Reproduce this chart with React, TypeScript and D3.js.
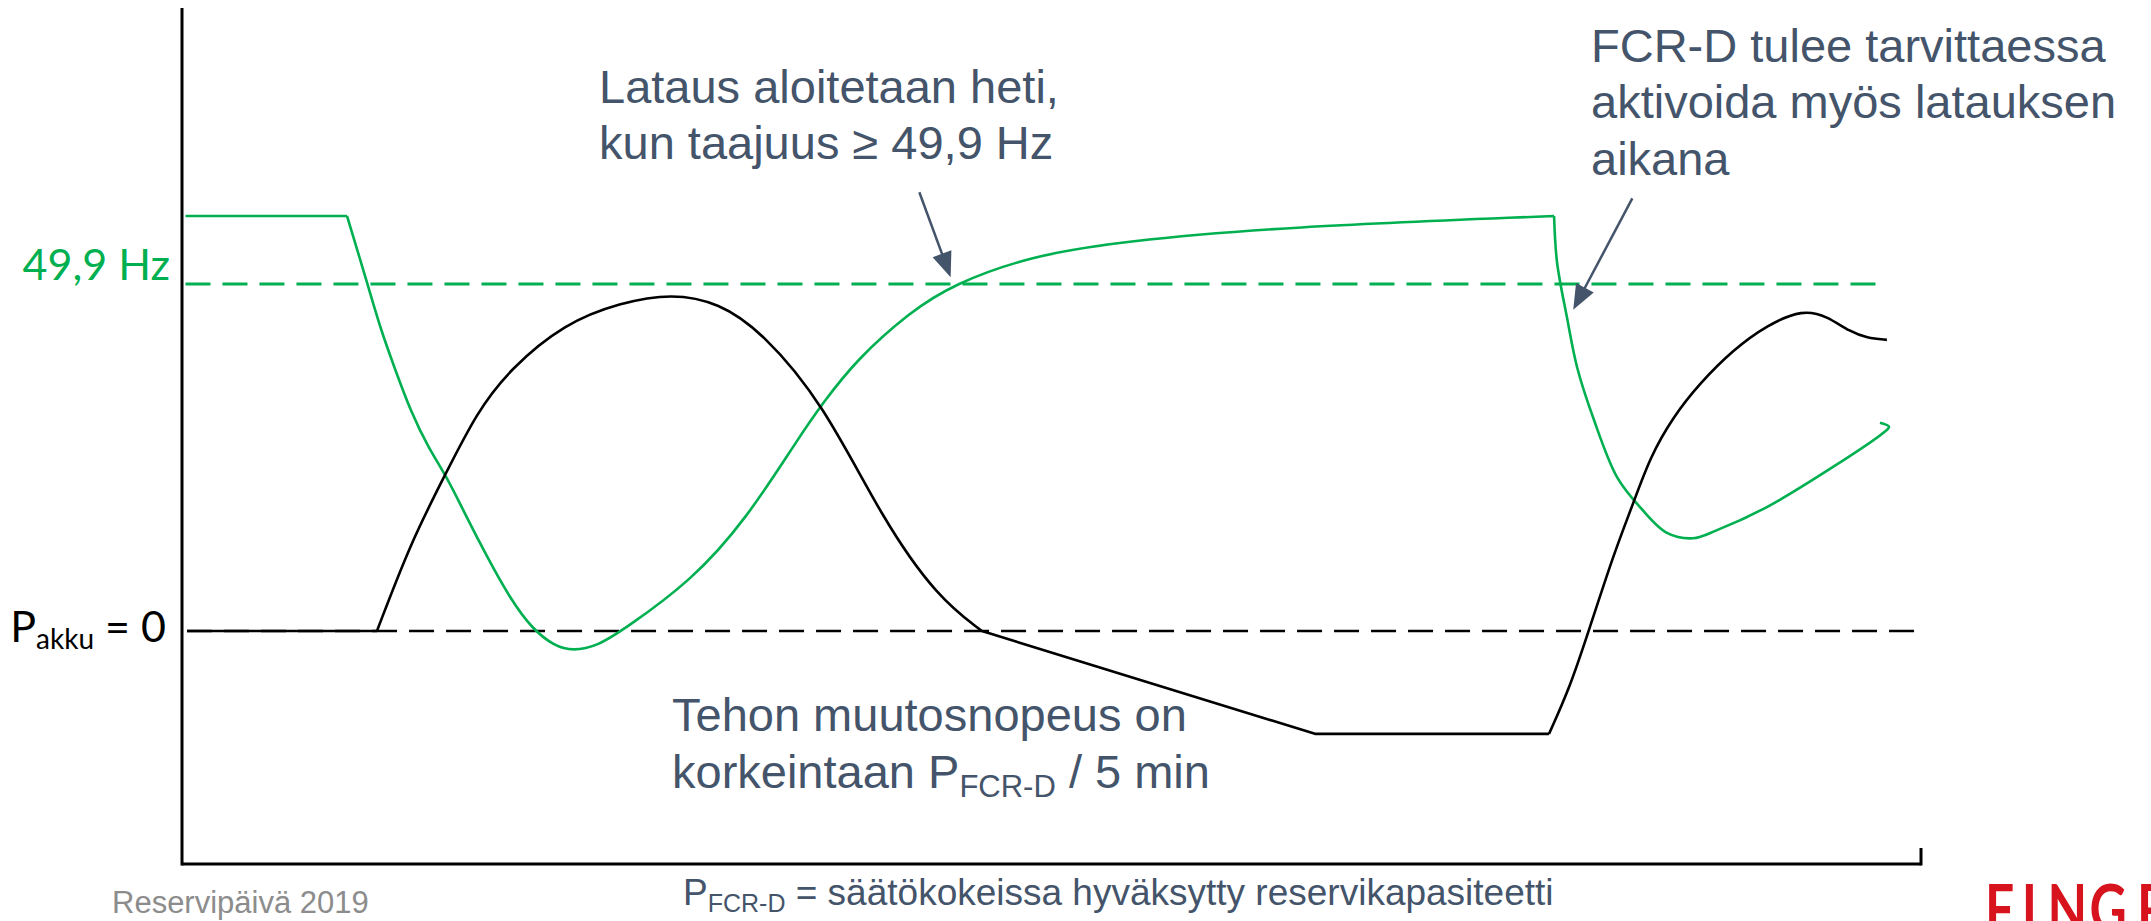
import * as d3 from "d3";

const WIDTH = 2151;
const HEIGHT = 921;

const green = "#00B050";
const slate = "#44546A";

// time runs 0..100 along the x axis (arbitrary units)
const timeDomain = [0, 100];
// power axis, P_akku = 0 is the dashed black reference, 1 = top of the first hump
const powerDomain = [-0.6955, 1.8597];
// frequency, two reference levels
const freqRef = [49.9, 50.0];
const freqLimit = 49.9;

// frequency curve [t, Hz], split where the original drawing has corners
const freqBefore = [[0.2, 50.0], [9.49, 50.0]];
const freqFirstDip = [
  [9.49, 50.0], [10.67, 49.9], [11.44, 49.832], [12.25, 49.775], [13.16, 49.712],
  [14.15, 49.66], [15.24, 49.616], [16.33, 49.559], [17.6, 49.496], [18.86, 49.438],
  [20.13, 49.393], [21.39, 49.368], [22.48, 49.36], [23.92, 49.368], [25.47, 49.393],
  [29.27, 49.463], [32.43, 49.553], [35.59, 49.679], [36.86, 49.725], [38.76, 49.788],
  [41.86, 49.859], [44.39, 49.9], [48.76, 49.941], [54.11, 49.963], [63.31, 49.984],
  [78.9, 50.0],
];
const freqSecondDip = [
  [78.9, 50.0], [79.07, 49.932], [79.64, 49.851], [80.22, 49.778], [81.14, 49.704],
  [82.52, 49.616], [83.84, 49.572], [85.39, 49.534], [86.89, 49.526], [88.27, 49.538],
  [91.14, 49.572], [94.94, 49.631], [97.82, 49.681], [98.16, 49.69], [97.64, 49.696],
];

// battery power [t, P]
const powerBefore = [[0.29, 0], [11.21, 0]];
const powerHump = [
  [11.21, 0], [13.17, 0.266], [15.07, 0.46], [16.96, 0.654], [18.86, 0.782],
  [22.02, 0.919], [25.19, 0.98], [28.18, 1.008], [30.88, 0.98], [33.35, 0.893],
  [36.86, 0.681], [40.31, 0.331], [43.47, 0.099], [46.0, 0],
];
const powerRamp = [[46.0, 0], [65.15, -0.307], [78.61, -0.307]];
const powerRise = [
  [78.61, -0.307], [79.82, -0.167], [80.91, 0.003], [82.35, 0.233], [83.44, 0.379],
  [84.42, 0.519], [85.74, 0.639], [87.29, 0.74], [89.19, 0.839], [91.14, 0.913],
  [93.21, 0.96], [94.59, 0.94], [95.92, 0.893], [96.89, 0.875], [98.04, 0.869],
];

const zeroLineSpan = [0.29, 100.2];
const limitLineSpan = [0.2, 97.8];

// arrows: [tail, tip] in [t, Hz]
const arrows = [
  [[42.4, 50.035], [44.2, 49.91]],
  [[83.4, 50.026], [80.0, 49.862]],
];

export default function App() {
  const x = d3.scaleLinear(timeDomain, [182, 1921]);
  const yP = d3.scaleLinear(powerDomain, [864, 8]);
  const yF = d3.scaleLinear(freqRef, [284, 216]);

  const lineF = (curve) => d3.line().x((d) => x(d[0])).y((d) => yF(d[1])).curve(curve);
  const lineP = (curve) => d3.line().x((d) => x(d[0])).y((d) => yP(d[1])).curve(curve);

  const freqPath =
    lineF(d3.curveLinear)(freqBefore) +
    lineF(d3.curveBasis)(freqFirstDip) +
    lineF(d3.curveCatmullRom.alpha(0.5))(freqSecondDip);

  const powerPath =
    lineP(d3.curveLinear)(powerBefore) +
    lineP(d3.curveBasis)(powerHump) +
    lineP(d3.curveLinear)(powerRamp) +
    lineP(d3.curveBasis)(powerRise);

  const axisLeft = x(timeDomain[0]);
  const axisRight = x(timeDomain[1]);
  const axisTop = yP(powerDomain[1]);
  const axisBottom = yP(powerDomain[0]);

  const arrowShapes = arrows.map(([tail, tip]) => {
    const x1 = x(tail[0]), y1 = yF(tail[1]);
    const x2 = x(tip[0]), y2 = yF(tip[1]);
    const len = Math.hypot(x2 - x1, y2 - y1);
    const ux = (x2 - x1) / len, uy = (y2 - y1) / len;
    const head = 25, half = 10;
    const bx = x2 - ux * head, by = y2 - uy * head;
    return {
      line: [x1, y1, bx + ux * 2, by + uy * 2],
      head: `${x2},${y2} ${bx - uy * half},${by + ux * half} ${bx + uy * half},${by - ux * half}`,
    };
  });

  const annoFont = "'Liberation Sans', Arial, sans-serif";
  const labelFont = "Lato, 'Open Sans', sans-serif";

  return (
    <svg
      width={WIDTH}
      height={HEIGHT}
      style={{ position: "absolute", left: 0, top: 0, background: "#fff", display: "block" }}
    >
      {/* reference lines */}
      <line
        x1={x(limitLineSpan[0])} x2={x(limitLineSpan[1])}
        y1={yF(freqLimit)} y2={yF(freqLimit)}
        stroke={green} strokeWidth={3} strokeDasharray="25 12"
      />
      <line
        x1={x(zeroLineSpan[0])} x2={x(zeroLineSpan[1])}
        y1={yP(0)} y2={yP(0)}
        stroke="#000" strokeWidth={2.5} strokeDasharray="25 12"
      />

      {/* curves */}
      <path d={freqPath} fill="none" stroke={green} strokeWidth={2.6} strokeLinejoin="round" />
      <path d={powerPath} fill="none" stroke="#000" strokeWidth={2.6} strokeLinejoin="round" />

      {/* axes */}
      <line x1={axisLeft} x2={axisLeft} y1={axisTop} y2={axisBottom + 1.5} stroke="#000" strokeWidth={3} />
      <line x1={axisLeft} x2={axisRight} y1={axisBottom} y2={axisBottom} stroke="#000" strokeWidth={3} />
      <line x1={axisRight} x2={axisRight} y1={axisBottom + 1.5} y2={axisBottom - 16} stroke="#000" strokeWidth={3} />

      {/* axis labels */}
      <text x={170} y={yF(freqLimit) - 4} textAnchor="end" fill={green} fontFamily={labelFont} fontSize={43}>
        49,9 Hz
      </text>
      <text x={166} y={yP(0) + 11} textAnchor="end" fill="#000" fontFamily={labelFont} fontSize={43}>
        P<tspan fontSize={28} dy={7}>akku</tspan><tspan dy={-7}> = 0</tspan>
      </text>

      {/* arrows */}
      {arrowShapes.map((a, i) => (
        <g key={i}>
          <line x1={a.line[0]} y1={a.line[1]} x2={a.line[2]} y2={a.line[3]} stroke={slate} strokeWidth={2.5} />
          <polygon points={a.head} fill={slate} />
        </g>
      ))}

      {/* annotations */}
      <g fill={slate} fontFamily={annoFont} fontSize={47}>
        <text x={599} y={103}>Lataus aloitetaan heti,</text>
        <text x={599} y={159}>kun taajuus ≥ 49,9 Hz</text>

        <text x={1591} y={62}>FCR-D tulee tarvittaessa</text>
        <text x={1591} y={118}>aktivoida myös latauksen</text>
        <text x={1591} y={175}>aikana</text>

        <text x={672} y={731}>Tehon muutosnopeus on</text>
        <text x={672} y={788}>
          korkeintaan P<tspan fontSize={31} dy={9}>FCR-D</tspan>
          <tspan dy={-9}> / 5 min</tspan>
        </text>
      </g>

      <text x={683} y={905} fill={slate} fontFamily={annoFont} fontSize={37}>
        P<tspan fontSize={25} dy={7}>FCR-D</tspan>
        <tspan dy={-7}> = säätökokeissa hyväksytty reservikapasiteetti</tspan>
      </text>

      {/* footer */}
      <text x={112} y={913} fill="#8C8C8C" fontFamily={annoFont} fontSize={31}>
        Reservipäivä 2019
      </text>
      <g transform="translate(1985,0) scale(0.78,1)">
        <text
          x="0 47 80 134 195 250 275"
          y={933}
          fill="#D7141E"
          fontFamily="Lato, 'Liberation Sans', sans-serif"
          fontWeight={700}
          fontSize={66}
        >
          FINGRID
        </text>
      </g>
    </svg>
  );
}
